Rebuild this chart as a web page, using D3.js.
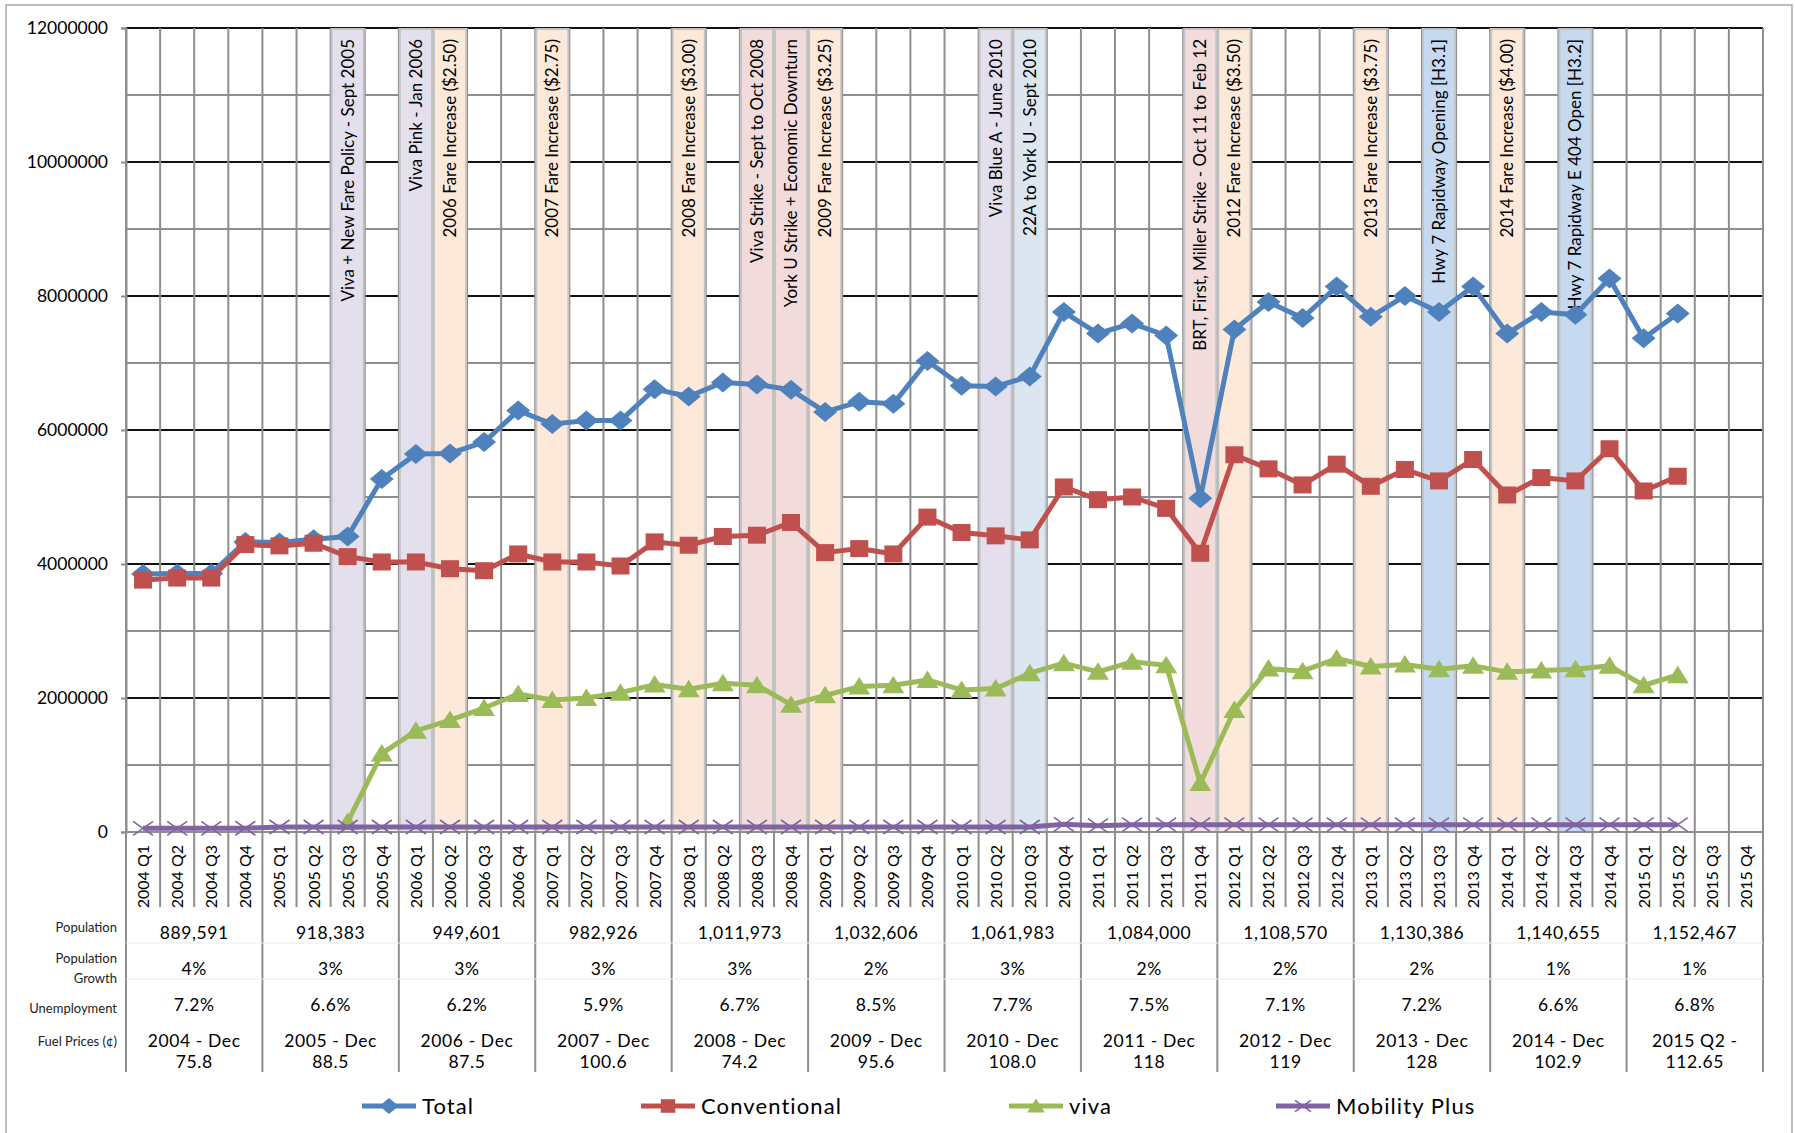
<!DOCTYPE html>
<html>
<head>
<meta charset="utf-8">
<script src="https://cdn.jsdelivr.net/npm/d3@7"></script>
<style>
  body { margin: 0; background: white; }
  svg text { font-family: Lato, "Open Sans", sans-serif; fill: #000; }
</style>
</head>
<body>
<svg id="chart" width="1795" height="1133"></svg>
<script>
// ---- data ----
var categories = [
  "2004 Q1","2004 Q2","2004 Q3","2004 Q4","2005 Q1","2005 Q2","2005 Q3","2005 Q4",
  "2006 Q1","2006 Q2","2006 Q3","2006 Q4","2007 Q1","2007 Q2","2007 Q3","2007 Q4",
  "2008 Q1","2008 Q2","2008 Q3","2008 Q4","2009 Q1","2009 Q2","2009 Q3","2009 Q4",
  "2010 Q1","2010 Q2","2010 Q3","2010 Q4","2011 Q1","2011 Q2","2011 Q3","2011 Q4",
  "2012 Q1","2012 Q2","2012 Q3","2012 Q4","2013 Q1","2013 Q2","2013 Q3","2013 Q4",
  "2014 Q1","2014 Q2","2014 Q3","2014 Q4","2015 Q1","2015 Q2","2015 Q3","2015 Q4"
];

// ridership, millions
var totalRides = [3.85,3.86,3.86,4.33,4.32,4.37,4.41,5.27,5.64,5.65,5.82,6.29,
  6.09,6.14,6.14,6.61,6.50,6.71,6.68,6.60,6.27,6.42,6.39,7.03,
  6.66,6.65,6.80,7.76,7.44,7.59,7.41,4.98,7.50,7.91,7.67,8.14,
  7.69,8.00,7.76,8.14,7.44,7.76,7.72,8.26,7.37,7.74,null,null];

var conventionalRides = [3.76,3.79,3.79,4.29,4.27,4.31,4.11,4.03,4.03,3.93,3.90,4.15,
  4.03,4.03,3.97,4.33,4.28,4.41,4.43,4.62,4.17,4.23,4.15,4.70,
  4.47,4.42,4.36,5.15,4.96,5.00,4.83,4.16,5.63,5.42,5.18,5.49,
  5.16,5.41,5.24,5.56,5.03,5.29,5.24,5.72,5.09,5.31,null,null];

var vivaRides = [null,null,null,null,null,null,0.15,1.17,1.51,1.67,1.85,2.06,
  1.97,2.00,2.08,2.20,2.13,2.22,2.19,1.90,2.04,2.17,2.19,2.27,
  2.12,2.14,2.37,2.52,2.39,2.54,2.49,0.73,1.82,2.44,2.40,2.59,
  2.47,2.50,2.43,2.48,2.39,2.41,2.43,2.48,2.19,2.34,null,null];

var mobilityRides = [0.055,0.055,0.055,0.056,0.075,0.075,0.075,0.075,0.075,0.075,0.075,0.075,
  0.075,0.075,0.075,0.075,0.075,0.075,0.075,0.075,0.075,0.075,0.075,0.075,
  0.075,0.075,0.075,0.115,0.095,0.11,0.11,0.11,0.11,0.11,0.11,0.11,
  0.11,0.11,0.11,0.11,0.11,0.11,0.11,0.11,0.11,0.11,null,null];

var yTicks = [0, 2000000, 4000000, 6000000, 8000000, 10000000, 12000000];

// event bands
var eventCats = ["2005 Q3","2006 Q1","2006 Q2","2007 Q1","2008 Q1","2008 Q3","2008 Q4","2009 Q1",
  "2010 Q2","2010 Q3","2011 Q4","2012 Q1","2013 Q1","2013 Q3","2014 Q1","2014 Q3"];
var eventLabels = ["Viva + New Fare Policy - Sept 2005","Viva Pink - Jan 2006","2006 Fare Increase ($2.50)",
  "2007 Fare Increase ($2.75)","2008 Fare Increase ($3.00)","Viva Strike - Sept to Oct 2008",
  "York U Strike + Economic Downturn","2009 Fare Increase ($3.25)","Viva Blue A - June 2010",
  "22A to York U - Sept 2010","BRT, First, Miller Strike - Oct 11 to Feb 12","2012 Fare Increase ($3.50)",
  "2013 Fare Increase ($3.75)","Hwy 7 Rapidway Opening [H3.1]","2014 Fare Increase ($4.00)",
  "Hwy 7 Rapidway E 404 Open [H3.2]"];
var eventKinds = ["launch","launch","fare","fare","fare","strike","strike","fare",
  "launch","route","strike","fare","fare","rapidway","fare","rapidway"];

// table under the axis, one entry per year
var years = ["2004","2005","2006","2007","2008","2009","2010","2011","2012","2013","2014","2015"];
var population = ["889,591","918,383","949,601","982,926","1,011,973","1,032,606","1,061,983",
  "1,084,000","1,108,570","1,130,386","1,140,655","1,152,467"];
var popGrowth = ["4%","3%","3%","3%","3%","2%","3%","2%","2%","2%","1%","1%"];
var unemployment = ["7.2%","6.6%","6.2%","5.9%","6.7%","8.5%","7.7%","7.5%","7.1%","7.2%","6.6%","6.8%"];
var fuelPeriod = ["2004 - Dec","2005 - Dec","2006 - Dec","2007 - Dec","2008 - Dec","2009 - Dec",
  "2010 - Dec","2011 - Dec","2012 - Dec","2013 - Dec","2014 - Dec","2015 Q2 -"];
var fuelPrice = ["75.8","88.5","87.5","100.6","74.2","95.6","108.0","118","119","128","102.9","112.65"];

var seriesNames = ["Total","Conventional","viva","Mobility Plus"];

// ---- setup ----
var svg = d3.select("svg#chart");
var plotLeft = 126, plotRight = 1763, plotTop = 28, plotBottom = 832;
var labelBottom = 907, tableBottom = 1072;

var bandColor = {
  launch: "#e4dfec", fare: "#fde9d9", strike: "#f2dcdb", route: "#dce6f1", rapidway: "#c5d9f1"
};
var seriesColor = ["#4f81bd","#c0504d","#9bbb59","#8064a2"];
var gridGray = "#8e8e8e";

var x = d3.scaleBand().domain(categories).range([plotLeft, plotRight]);
var y = d3.scaleLinear().domain([0, 12000000]).range([plotBottom, plotTop]);
var bw = x.bandwidth();

// outer frame
svg.append("rect")
  .attr("x", 6).attr("y", 5)
  .attr("width", 1786).attr("height", 1200)
  .attr("fill", "white")
  .attr("stroke", "#a6a6a6")
  .attr("stroke-width", 1.5);

var plot = svg.append("g").attr("id", "plot");

// horizontal gridlines (minor grey, major black)
plot.append("g").selectAll("line")
  .data(d3.range(1000000, 12000000, 2000000))
  .enter().append("line")
    .attr("x1", plotLeft).attr("x2", plotRight)
    .attr("y1", function(d){ return y(d); })
    .attr("y2", function(d){ return y(d); })
    .attr("stroke", gridGray)
    .attr("stroke-width", 2);

plot.append("g").selectAll("line")
  .data(yTicks.slice(1))
  .enter().append("line")
    .attr("x1", plotLeft).attr("x2", plotRight)
    .attr("y1", function(d){ return y(d); })
    .attr("y2", function(d){ return y(d); })
    .attr("stroke", "#111")
    .attr("stroke-width", 2);

// vertical gridlines, running down through the category labels
var edges = categories.map(function(c){ return x(c); }).concat([plotRight]);
plot.append("g").selectAll("line")
  .data(edges)
  .enter().append("line")
    .attr("x1", function(d){ return d; })
    .attr("x2", function(d){ return d; })
    .attr("y1", plotTop)
    .attr("y2", labelBottom)
    .attr("stroke", gridGray)
    .attr("stroke-width", 2);

// event bands
var events = eventCats.map(function(c, i){
  return { cat: c, label: eventLabels[i], kind: eventKinds[i] };
});

var bands = plot.append("g").attr("class", "bands");
bands.selectAll("rect")
  .data(events)
  .enter().append("rect")
    .attr("x", function(d){ return x(d.cat) + 1; })
    .attr("y", plotTop + 1)
    .attr("width", bw - 2)
    .attr("height", plotBottom - plotTop - 1)
    .attr("fill", function(d){ return bandColor[d.kind]; })
    .attr("stroke", "#c3c3c3")
    .attr("stroke-width", 2);

bands.selectAll("text")
  .data(events)
  .enter().append("text")
    .attr("transform", function(d){
      return "translate(" + (x(d.cat) + bw / 2 + 6) + "," + (plotTop + 11) + ") rotate(-90)";
    })
    .attr("text-anchor", "end")
    .style("font-size", "17px")
    .text(function(d){ return d.label; });

// zero line
plot.append("line")
  .attr("x1", plotLeft).attr("x2", plotRight)
  .attr("y1", plotBottom).attr("y2", plotBottom)
  .attr("stroke", gridGray)
  .attr("stroke-width", 2);

// y axis
var yAxis = d3.axisLeft(y)
  .tickValues(yTicks)
  .tickFormat(d3.format("d"))
  .tickSize(5)
  .tickPadding(13);

var yAxisG = svg.append("g")
  .attr("transform", "translate(" + plotLeft + ",0)")
  .call(yAxis);
yAxisG.select(".domain").attr("stroke", gridGray).attr("stroke-width", 2);
yAxisG.selectAll(".tick line").attr("stroke", gridGray).attr("stroke-width", 2);
yAxisG.selectAll(".tick text")
  .style("font-size", "17.5px")
  .style("font-family", "Lato, sans-serif")
  .attr("fill", "#000");

// left axis line extends down through the table
svg.append("line")
  .attr("x1", plotLeft).attr("x2", plotLeft)
  .attr("y1", plotTop).attr("y2", tableBottom)
  .attr("stroke", gridGray).attr("stroke-width", 2);

// category labels
var xAxis = d3.axisBottom(x).tickSize(0).tickPadding(0);
var xAxisG = svg.append("g")
  .attr("transform", "translate(0," + plotBottom + ")")
  .call(xAxis);
xAxisG.select(".domain").remove();
xAxisG.selectAll(".tick text")
  .attr("transform", "translate(6,13) rotate(-90)")
  .attr("text-anchor", "end")
  .attr("dy", 0)
  .attr("y", 0)
  .style("font-size", "16px")
  .style("font-family", "Lato, sans-serif")
  .attr("fill", "#000");

// ---- series ----
var allSeries = [totalRides, conventionalRides, vivaRides, mobilityRides];

var line = d3.line()
  .defined(function(d){ return d.v !== null; })
  .x(function(d){ return x(d.c) + bw / 2; })
  .y(function(d){ return y(d.v * 1000000); });

var markerPath = [
  "M0,-10L12,0L0,10L-12,0Z",          // diamond
  "M-9,-8.5L9,-8.5L9,8.5L-9,8.5Z",    // square
  "M0,-9.5L11,8L-11,8Z",              // triangle
  "M-10,-7L10,7M-10,7L10,-7"          // x
];

var seriesG = plot.append("g").attr("class", "series");

allSeries.forEach(function(vals, si){
  var pts = vals.map(function(v, i){ return { c: categories[i], v: v }; });
  var g = seriesG.append("g");
  g.append("path")
    .datum(pts)
    .attr("d", line)
    .attr("fill", "none")
    .attr("stroke", seriesColor[si])
    .attr("stroke-width", 5)
    .attr("stroke-linejoin", "round");
  g.selectAll("path.mark")
    .data(pts.filter(function(d){ return d.v !== null; }))
    .enter().append("path")
      .attr("class", "mark")
      .attr("d", markerPath[si])
      .attr("transform", function(d){
        return "translate(" + (x(d.c) + bw / 2) + "," + y(d.v * 1000000) + ")";
      })
      .attr("fill", si === 3 ? "none" : seriesColor[si])
      .attr("stroke", seriesColor[si])
      .attr("stroke-width", si === 3 ? 1.6 : 0);
});

// ---- table of context figures ----
var table = svg.append("g").attr("class", "table");

var yearX = function(i){ return x(categories[i * 4]); };

table.selectAll("line.sep")
  .data(d3.range(1, years.length + 1))
  .enter().append("line")
    .attr("class", "sep")
    .attr("x1", function(i){ return i < years.length ? yearX(i) : plotRight; })
    .attr("x2", function(i){ return i < years.length ? yearX(i) : plotRight; })
    .attr("y1", labelBottom)
    .attr("y2", tableBottom)
    .attr("stroke", gridGray)
    .attr("stroke-width", 2);

// faint row rules
[943, 979].forEach(function(ry){
  table.append("line")
    .attr("x1", plotLeft).attr("x2", plotRight)
    .attr("y1", ry).attr("y2", ry)
    .attr("stroke", "#ececec").attr("stroke-width", 1);
});

var rowLabels = [
  { t: "Population", y: 927 },
  { t: "Population", y: 958 },
  { t: "Growth", y: 978 },
  { t: "Unemployment", y: 1008 },
  { t: "Fuel Prices (\u00a2)", y: 1041 }
];
table.selectAll("text.rowlab")
  .data(rowLabels)
  .enter().append("text")
    .attr("class", "rowlab")
    .attr("x", 117)
    .attr("y", function(d){ return d.y; })
    .attr("dy", "0.35em")
    .attr("text-anchor", "end")
    .style("font-size", "13px")
    .style("fill", "#222")
    .text(function(d){ return d.t; });

var rows = [
  { vals: population, y: 933 },
  { vals: popGrowth, y: 969 },
  { vals: unemployment, y: 1005 },
  { vals: fuelPeriod, y: 1041 },
  { vals: fuelPrice, y: 1062 }
];
rows.forEach(function(r){
  table.append("g").selectAll("text")
    .data(r.vals)
    .enter().append("text")
      .attr("x", function(d, i){ return yearX(i) + bw * 2; })
      .attr("y", r.y)
      .attr("dy", "0.35em")
      .attr("text-anchor", "middle")
      .style("font-size", "17.5px")
      .style("letter-spacing", "0.6px")
      .text(function(d){ return d; });
});

// ---- legend ----
var legendX = [362, 641, 1009, 1276];
var legendY = 1106;
var legend = svg.append("g").attr("class", "legend");

seriesNames.forEach(function(name, si){
  var g = legend.append("g")
    .attr("transform", "translate(" + legendX[si] + "," + legendY + ")");
  g.append("line")
    .attr("x1", 0).attr("x2", 54)
    .attr("y1", 0).attr("y2", 0)
    .attr("stroke", seriesColor[si])
    .attr("stroke-width", 5);
  g.append("path")
    .attr("d", markerPath[si])
    .attr("transform", "translate(27,0) scale(0.8)")
    .attr("fill", si === 3 ? "none" : seriesColor[si])
    .attr("stroke", seriesColor[si])
    .attr("stroke-width", si === 3 ? 2 : 0);
  g.append("text")
    .attr("x", 60)
    .attr("dy", "0.35em")
    .style("font-size", "22px")
    .style("letter-spacing", "1.1px")
    .text(name);
});
</script>
</body>
</html>
